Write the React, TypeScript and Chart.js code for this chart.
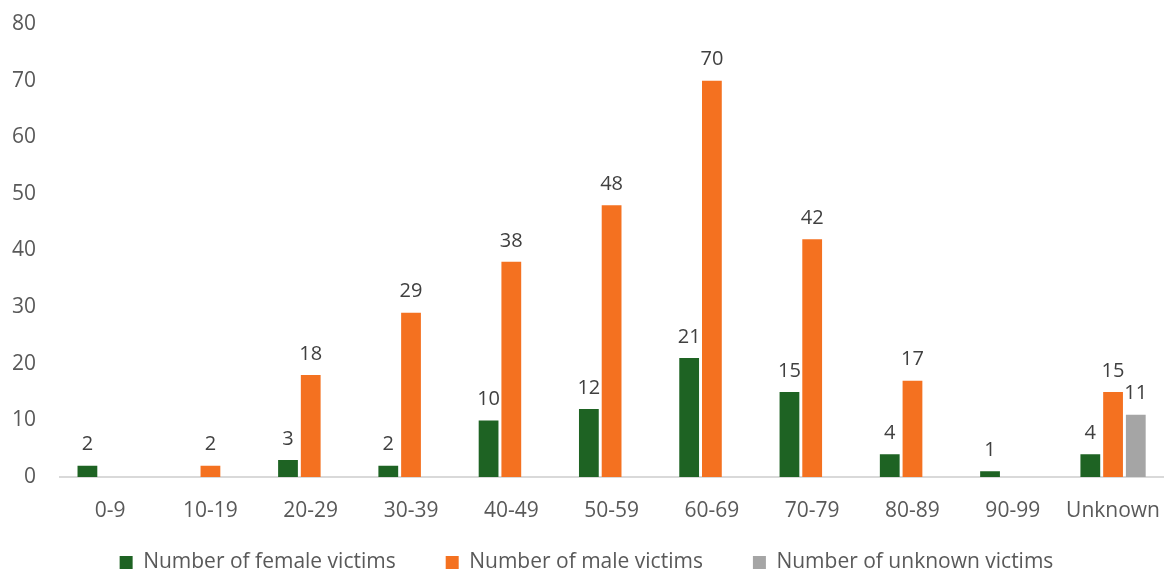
import React, { useEffect, useRef } from "react";
import { Chart, registerables } from "chart.js";

Chart.register(...registerables);

const categories = ["0-9", "10-19", "20-29", "30-39", "40-49", "50-59", "60-69", "70-79", "80-89", "90-99", "Unknown"];
const femaleVictims = [2, null, 3, 2, 10, 12, 21, 15, 4, 1, 4];
const maleVictims = [null, 2, 18, 29, 38, 48, 70, 42, 17, null, 15];
const unknownVictims = [null, null, null, null, null, null, null, null, null, null, 11];
const yTicks = [0, 10, 20, 30, 40, 50, 60, 70, 80];

const FONT = "'Open Sans', 'Noto Sans', sans-serif";

const dataLabels = {
  id: "dataLabels",
  afterDatasetsDraw(chart: any) {
    const ctx = chart.ctx;
    ctx.save();
    ctx.font = `20px ${FONT}`;
    ctx.fillStyle = "#404040";
    ctx.textAlign = "center";
    ctx.textBaseline = "bottom";
    chart.data.datasets.forEach((ds: any, i: number) => {
      const meta = chart.getDatasetMeta(i);
      meta.data.forEach((bar: any, j: number) => {
        const v = ds.data[j];
        if (v === null || v === undefined) return;
        ctx.fillText(String(v), bar.x, bar.y - 11);
      });
    });
    ctx.restore();
  },
};

// let the x tick labels extend below the compact x-axis box
const widenXLabelArea = {
  id: "widenXLabelArea",
  afterLayout(chart: any) {
    const s = chart.scales.x;
    s.bottom = s.top + 70;
    s.height = 70;
  },
};

export default function App() {
  const ref = useRef<HTMLCanvasElement>(null);
  useEffect(() => {
    document.body.style.margin = "0";
    const chart = new Chart(ref.current!, {
      type: "bar",
      data: {
        labels: categories,
        datasets: [
          { label: "Number of female victims", data: femaleVictims, backgroundColor: "#1e6323" },
          { label: "Number of male victims", data: maleVictims, backgroundColor: "#f47120" },
          { label: "Number of unknown victims", data: unknownVictims, backgroundColor: "#a5a5a5" },
        ],
      },
      options: {
        animation: false,
        responsive: false,
        maintainAspectRatio: false,
        layout: { padding: { top: 0, right: 0, left: 0, bottom: -12 } },
        datasets: { bar: { categoryPercentage: 0.68, barPercentage: 0.87 } },
        scales: {
          x: {
            grid: { display: false },
            border: { display: true, color: "#d9d9d9", width: 2 },
            ticks: { color: "#595959", font: { family: FONT, size: 21 }, padding: 13 },
            afterFit: (scale: any) => {
              scale.height = 25;
            },
          },
          y: {
            min: 0,
            max: 80,
            afterBuildTicks: (scale: any) => {
              scale.ticks = yTicks.map((v) => ({ value: v }));
            },
            afterFit: (scale: any) => {
              scale.width = 60;
              scale.paddingTop = 24;
            },
            grid: { display: false },
            border: { display: false },
            ticks: { color: "#595959", font: { family: FONT, size: 21 }, padding: 16 },
          },
        },
        plugins: {
          tooltip: { enabled: false },
          legend: {
            position: "bottom",
            labels: {
              boxWidth: 13,
              boxHeight: 13,
              padding: 50,
              color: "#595959",
              font: { family: FONT, size: 21 },
            },
          },
        },
      },
      plugins: [dataLabels, widenXLabelArea],
    } as any);
    return () => chart.destroy();
  }, []);
  return <canvas ref={ref} width={1173} height={571} style={{ display: "block" }} />;
}
